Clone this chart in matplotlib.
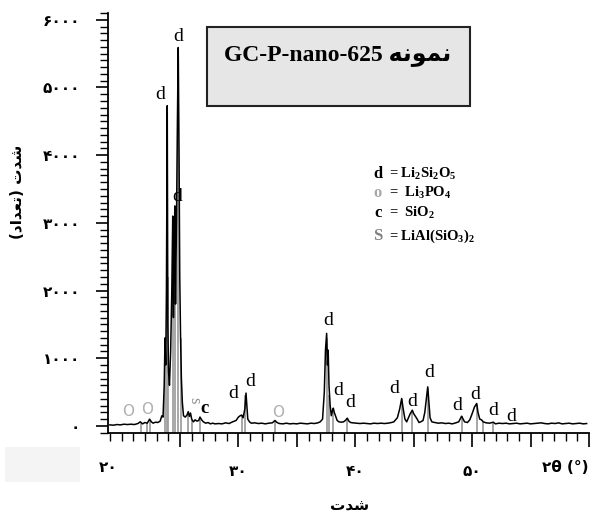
import matplotlib
matplotlib.use("Agg")
import matplotlib.pyplot as plt
from matplotlib.ticker import MultipleLocator, FixedLocator, FixedFormatter
from matplotlib.patches import Rectangle

plt.rcParams['mathtext.fontset'] = 'custom'
plt.rcParams['mathtext.rm'] = 'Liberation Serif:bold'
plt.rcParams['mathtext.bf'] = 'Liberation Serif:bold'
plt.rcParams['mathtext.default'] = 'bf'

# XRD trace (2theta in degrees, counts)
two_theta = [19.0, 19.3, 19.6, 19.9, 20.2, 20.5, 20.8, 21.1, 21.4, 21.6, 21.8, 22.0, 22.2, 22.4, 22.55,
             22.7, 22.9, 23.1, 23.3, 23.45, 23.55, 23.65, 23.72, 23.78, 23.84, 23.91, 23.96, 24.02, 24.1,
             24.2, 24.3, 24.38, 24.44, 24.5, 24.56, 24.62, 24.7, 24.78, 24.85, 24.92, 24.98, 25.05, 25.12,
             25.2, 25.3, 25.45, 25.6, 25.71, 25.8, 25.9, 26.0, 26.15, 26.3, 26.45, 26.6, 26.71, 26.85, 27.0,
             27.2, 27.4, 27.6, 27.8, 28.0, 28.3, 28.6, 28.9, 29.2, 29.5, 29.8, 30.0, 30.15, 30.28, 30.4,
             30.55, 30.65, 30.72, 30.8, 30.95, 31.1, 31.4, 31.7, 32.0, 32.3, 32.6, 32.9, 33.13, 33.3, 33.5,
             33.8, 34.1, 34.4, 34.7, 35.0, 35.3, 35.6, 35.9, 36.2, 36.5, 36.8, 37.0, 37.2, 37.35, 37.45,
             37.55, 37.62, 37.68, 37.75, 37.85, 37.95, 38.05, 38.12, 38.2, 38.3, 38.45, 38.6, 38.8, 39.0,
             39.15, 39.32, 39.45, 39.6, 39.8, 40.1, 40.4, 40.7, 41.0, 41.3, 41.6, 41.9, 42.2, 42.5, 42.8,
             43.1, 43.3, 43.6, 43.8, 43.97, 44.1, 44.25, 44.4, 44.55, 44.7, 44.88, 45.0, 45.15, 45.3, 45.45,
             45.6, 45.8, 45.95, 46.1, 46.2, 46.3, 46.4, 46.55, 46.8, 47.1, 47.4, 47.7, 48.0, 48.3, 48.6,
             48.85, 49.0, 49.1, 49.2, 49.35, 49.6, 49.8, 50.0, 50.2, 50.39, 50.5, 50.65, 50.8, 50.95, 51.2,
             51.5, 51.8, 52.0, 52.3, 52.6, 52.9, 53.2, 53.5, 53.8, 54.1, 54.4, 54.7, 55.0, 55.3, 55.6,
             55.9, 56.2, 56.5, 56.8, 57.1, 57.4, 57.7, 58.0, 58.3, 58.6, 58.9, 59.2, 59.5, 59.8]
counts = [15, 10, 20, 15, 25, 20, 25, 20, 35, 60, 30, 50, 40, 100, 60,
          40, 55, 50, 70, 150, 130, 600, 1300, 900, 2000, 4730, 1500, 800, 600,
          1100, 2000, 3100, 1600, 2500, 3250, 1800, 3000, 4500, 5590, 4000, 2200, 1300, 700,
          350, 150, 130, 160, 210, 140, 190, 100, 60, 90, 70, 80, 130, 90, 60,
          40, 50, 30, 40, 30, 35, 30, 45, 35, 60, 80, 130, 150, 160, 120,
          250, 485, 300, 100, 60, 40, 45, 35, 40, 30, 40, 45, 80, 50, 35,
          30, 40, 30, 35, 30, 40, 35, 30, 40, 35, 45, 60, 100, 500, 1120,
          1367, 900, 1120, 600, 300, 150, 230, 262, 200, 150, 80, 60, 55, 60,
          80, 114, 70, 50, 45, 40, 35, 40, 35, 30, 40, 35, 40, 35, 40,
          50, 60, 120, 250, 405, 250, 100, 60, 120, 180, 232, 180, 140, 100, 50,
          60, 80, 200, 420, 577, 350, 120, 60, 50, 40, 45, 35, 40, 30, 45,
          60, 110, 143, 110, 60, 50, 90, 180, 280, 331, 200, 100, 90, 60, 45,
          40, 55, 30, 40, 35, 40, 30, 35, 40, 30, 35, 40, 30, 35, 40,
          45, 35, 30, 40, 35, 45, 30, 35, 40, 30, 35, 40, 30, 35]

# reference stick lines
stick_pos = [21.66, 22.2, 22.43, 23.75, 23.91, 24.0, 24.38, 24.55, 24.85, 25.05, 25.7, 26.0, 26.71,
             30.28, 30.6, 33.13, 37.55, 37.75, 38.12, 39.32, 43.97, 44.88, 46.2, 49.1, 50.39, 50.9, 51.8]
stick_h = [60, 60, 90, 1300, 4700, 2200, 3100, 3200, 5500, 1300, 200, 90, 120,
           150, 450, 70, 1300, 450, 250, 110, 400, 220, 560, 140, 320, 60, 50]

# peak labels
lab_x = [23.29, 24.85, 24.8, 29.56, 30.99, 37.66, 38.52, 39.55, 43.31, 44.83, 46.34,
         48.73, 50.24, 51.81, 53.3]
lab_y = [4892, 5754, 3388, 479, 651, 1560, 528, 350, 553, 365, 784, 306, 464, 232, 143]
o_x = [20.55, 22.18, 33.39]
o_y = [218, 247, 203]

y_ticks = [0, 1000, 2000, 3000, 4000, 5000, 6000]
x_major = [25, 30, 35, 40, 45, 50, 55, 60]

fa = str.maketrans('0123456789', '۰۱۲۳۴۵۶۷۸۹')

fig = plt.figure(figsize=(6.04, 5.16), dpi=100)
ax = fig.add_axes([108/604, 1-433/516, (589-108)/604, (433-13)/516])

ax.vlines(stick_pos, -105, stick_h, color='#a0a0a0', lw=1.3)
ax.plot(two_theta, counts, color='black', lw=1.1)

for x, y in zip(lab_x, lab_y):
    ax.text(x, y, 'd', ha='center', va='center', fontsize=14, family='Liberation Serif')
for x, y in zip(o_x, o_y):
    ax.text(x, y, 'O', ha='center', va='center', fontsize=11, family='DejaVu Sans', color='#b0b0b0')
ax.text(26.2, 380, 's', ha='center', va='center', fontsize=12, family='Liberation Serif',
        color='#909090', rotation=-90)
ax.text(27.14, 262, 'c', ha='center', va='center', fontsize=13.5, family='Liberation Serif',
        fontweight='bold')

ax.set_xlim(18.84, 60)
ax.set_ylim(-105, 6100)
for s in ['top', 'right']:
    ax.spines[s].set_visible(False)
ax.spines['left'].set_linewidth(1.3)
ax.spines['bottom'].set_linewidth(1.3)

ax.set_yticks(y_ticks)
ax.set_yticklabels([str(v).translate(fa) for v in y_ticks], family='DejaVu Sans',
                   fontweight='bold', fontsize=11)
ax.yaxis.set_minor_locator(MultipleLocator(100))
ax.xaxis.set_major_locator(FixedLocator(x_major))
ax.xaxis.set_major_formatter(FixedFormatter([str(v).translate(fa) if v in (30, 40, 50) else ''
                                             for v in x_major]))
ax.xaxis.set_minor_locator(MultipleLocator(1))
for lab in ax.get_xticklabels():
    lab.set_family('DejaVu Sans')
    lab.set_fontweight('bold')
    lab.set_fontsize(11)
ax.tick_params(axis='y', which='major', length=9, width=1.2, pad=11)
ax.tick_params(axis='y', which='minor', length=6, width=1.0)
ax.tick_params(axis='x', which='major', length=10, width=1.2, pad=12)
ax.tick_params(axis='x', which='minor', length=6, width=1.0)

# left end label and axis unit
fig.text(108/604, 1-467/516, '۲۰', ha='center', va='center', family='DejaVu Sans',
         fontweight='bold', fontsize=11)
fig.text(565/604, 1-467/516, '۲θ (°)', ha='center', va='center', family='DejaVu Sans',
         fontweight='bold', fontsize=11)

# axis titles (presentation forms, visual order)
fig.text(350/604, 1-506/516, '\uFE95\uFEAA\uFEB7', ha='center', va='center',
         family='DejaVu Sans', fontweight='bold', fontsize=11)
fig.text(18/604, 1-192/516, '(\uFEA9\uFE8D\uFEAA\uFECC\uFE97) \uFE95\uFEAA\uFEB7', ha='center',
         va='center', rotation=90, family='DejaVu Sans', fontweight='bold', fontsize=11)

# title box
fig.patches.append(Rectangle((207/604, 1-106/516), 263/604, 79/516, transform=fig.transFigure,
                             facecolor='#e6e6e6', edgecolor='#222222', lw=1.5))
fig.text(338/604, 1-56/516, 'GC-P-nano-625 \uFEEA\uFEE7\uFEEE\uFEE4\uFEE7', ha='center', va='center',
         family=['Liberation Serif', 'DejaVu Sans'], fontweight='bold', fontsize=17)

# faint patch bottom-left
fig.patches.append(Rectangle((5/604, 1-482/516), 75/604, 35/516, transform=fig.transFigure,
                             facecolor='#f4f4f4', edgecolor='none'))

# legend of phases
leg_sym = ['d', 'o', 'c', 'S']
leg_col = ['black', '#a8a8a8', 'black', '#808080']
leg_txt = [r'= Li$_2$Si$_2$O$_5$', r'=  Li$_3$PO$_4$', r'=  SiO$_2$', r'= LiAl(SiO$_3$)$_2$']
leg_y = [174, 193, 213, 236]
for sym, col, txt, yy in zip(leg_sym, leg_col, leg_txt, leg_y):
    fig.text(378/604, 1-yy/516, sym, ha='center', va='center', family='Liberation Serif',
             fontweight='bold', fontsize=12, color=col)
    fig.text(389/604, 1-yy/516, txt, ha='left', va='center', family='Liberation Serif',
             fontweight='bold', fontsize=10.5)

fig.savefig('out.png', dpi=100)
